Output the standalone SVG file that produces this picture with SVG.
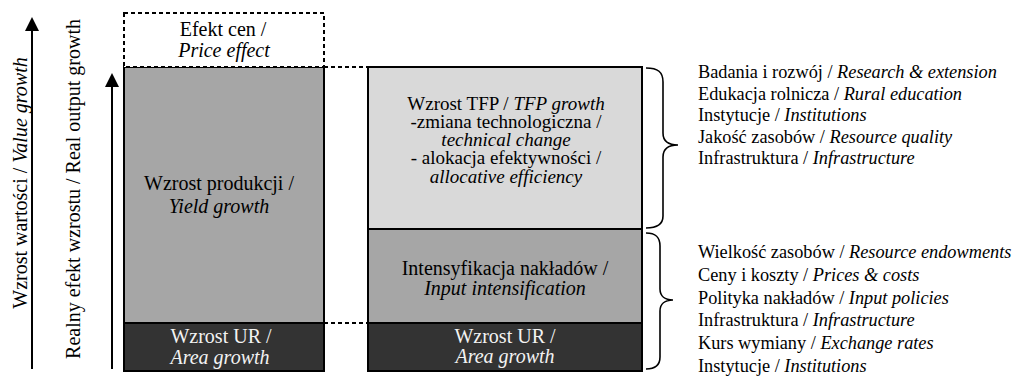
<svg xmlns="http://www.w3.org/2000/svg" width="1016" height="379" viewBox="0 0 1016 379" font-family="'Liberation Serif', Tinos, 'Times New Roman', 'DejaVu Serif', serif">
<style>
text{font-family:'Liberation Serif',Tinos,'Times New Roman','DejaVu Serif',serif;font-size:20px;fill:#000}
.c{text-anchor:middle}
.w{fill:#f2f2f2}
.i{font-style:italic}
.lst{font-size:18.3px}
.t{font-size:19px}
.box{stroke:#000;stroke-width:2}
.dash{fill:none;stroke:#000;stroke-width:2;stroke-dasharray:4 3}
.br{fill:none;stroke:#000;stroke-width:1.6}
</style>
<rect width="1016" height="379" fill="#fff"/>
<g id="axis-value">
<line x1="32" y1="369" x2="32" y2="29" stroke="#000" stroke-width="2"/>
<polygon points="32,17 25,31 39,31" fill="#000"/>
<text class="c" transform="translate(27,183) rotate(-90)">Wzrost wartości / <tspan class="i">Value growth</tspan></text>
</g>
<g id="axis-real">
<line x1="112" y1="369" x2="112" y2="85" stroke="#000" stroke-width="2"/>
<polygon points="112,73 105,87 119,87" fill="#000"/>
<text class="c" transform="translate(80,189) rotate(-90)">Realny efekt wzrostu / Real output growth</text>
</g>
<g id="yield">
<rect class="box" x="124" y="67" width="200" height="256" fill="#a6a6a6"/>
<text class="c" x="219" y="190">Wzrost produkcji /</text>
<text class="c i" x="219" y="213">Yield growth</text>
</g>
<g id="price">
<rect x="124" y="13" width="200" height="54" fill="#fff"/>
<rect class="dash" x="124" y="13" width="200" height="54"/>
<text class="c" x="223" y="36">Efekt cen /</text>
<text class="c i" x="224" y="57">Price effect</text>
</g>
<g id="area-left">
<rect class="box" x="124" y="323" width="200" height="48" fill="#333"/>
<text class="c w" x="221" y="343">Wzrost UR /</text>
<text class="c w i" x="220" y="364">Area growth</text>
</g>
<g id="tfp">
<rect class="box" x="368" y="67" width="274" height="162" fill="#d9d9d9"/>
<text class="c t" x="506" y="110">Wzrost TFP / <tspan class="i">TFP growth</tspan></text>
<text class="c t" x="506" y="128">-zmiana technologiczna /</text>
<text class="c t i" x="506" y="146">technical change</text>
<text class="c t" x="506" y="164"> - alokacja efektywności /</text>
<text class="c t i" x="506" y="183">allocative efficiency</text>
</g>
<g id="input">
<rect class="box" x="368" y="229" width="274" height="94" fill="#a6a6a6"/>
<text class="c" x="505" y="275">Intensyfikacja nakładów /</text>
<text class="c i" x="505" y="295">Input intensification</text>
</g>
<g id="area-right">
<rect class="box" x="368" y="323" width="274" height="48" fill="#333"/>
<text class="c w" x="505" y="343">Wzrost UR /</text>
<text class="c w i" x="505" y="363">Area growth</text>
</g>
<g id="connectors">
<line class="dash" x1="324" y1="67" x2="368" y2="67"/>
<line class="dash" x1="324" y1="323" x2="368" y2="323"/>
<path class="br" d="M646,68 C658,68 663,72 663,82 L663,133 C663,141 668,145 678,145 C668,145 663,149 663,157 L663,216 C663,224 658,228 646,228"/>
<path class="br" d="M646,233 C656,233 660,237 660,246 L660,289 C660,296 665,300 673,300 C665,300 660,304 660,311 L660,357 C660,365 656,369 646,369"/>
</g>
<g id="factors-tfp">
<text class="lst" x="698" y="78">Badania i rozwój / <tspan class="i">Research &amp; extension</tspan></text>
<text class="lst" x="698" y="99.5">Edukacja rolnicza / <tspan class="i">Rural education</tspan></text>
<text class="lst" x="698" y="121">Instytucje / <tspan class="i">Institutions</tspan></text>
<text class="lst" x="698" y="142.5">Jakość zasobów / <tspan class="i">Resource quality</tspan></text>
<text class="lst" x="698" y="164">Infrastruktura / <tspan class="i">Infrastructure</tspan></text>
</g>
<g id="factors-input">
<text class="lst" x="698" y="258">Wielkość zasobów / <tspan class="i">Resource endowments</tspan></text>
<text class="lst" x="698" y="281">Ceny i koszty / <tspan class="i">Prices &amp; costs</tspan></text>
<text class="lst" x="698" y="304">Polityka nakładów / <tspan class="i">Input policies</tspan></text>
<text class="lst" x="698" y="326">Infrastruktura / <tspan class="i">Infrastructure</tspan></text>
<text class="lst" x="698" y="349">Kurs wymiany / <tspan class="i">Exchange rates</tspan></text>
<text class="lst" x="698" y="372">Instytucje / <tspan class="i">Institutions</tspan></text>
</g>
</svg>
